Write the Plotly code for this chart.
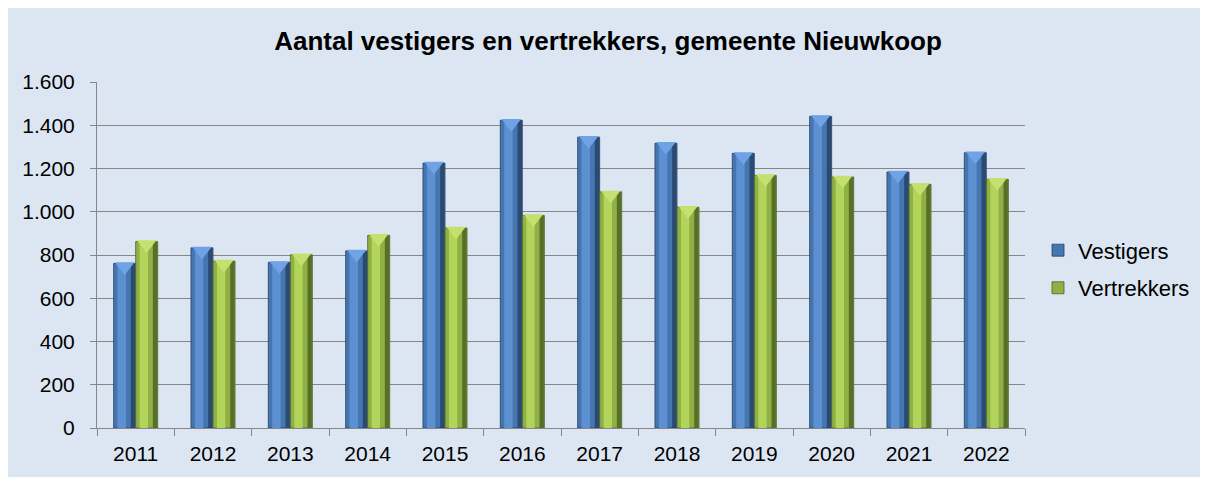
import plotly.graph_objects as go

years = ["2011", "2012", "2013", "2014", "2015", "2016", "2017", "2018", "2019", "2020", "2021", "2022"]
vestigers = [761, 833, 766, 819, 1225, 1423, 1345, 1317, 1270, 1441, 1184, 1273]
vertrekkers = [862, 772, 801, 891, 925, 983, 1092, 1021, 1168, 1161, 1127, 1150]
y_ticks = [0, 200, 400, 600, 800, 1000, 1200, 1400, 1600]

FONT = "Liberation Sans, Arial, sans-serif"
BG = "#dce6f2"
W, H = 1200, 469
ML, MR, MT, MB = 89, 183, 74, 46
PW, PH = W - ML - MR, H - MT - MB

xs = list(range(len(years)))
BW = 0.285

series = [
    dict(name="Vestigers", vals=vestigers, off=-BW,
         base="#4676b0", light="#5d90d0", dark="#2b4a72", edge="#24406a", top="#6fa3e6"),
    dict(name="Vertrekkers", vals=vertrekkers, off=0.0,
         base="#8fb045", light="#b3d45a", dark="#56702a", edge="#4b6322", top="#c6e070"),
]

fig = go.Figure()
for i, s in enumerate(series):
    fig.add_trace(go.Bar(
        x=xs, y=s["vals"], name=s["name"], width=BW, offset=s["off"],
        marker=dict(color=s["base"], line=dict(color=s["edge"], width=0.8)),
        legendgroup=s["name"], showlegend=True,
    ))
    fig.add_trace(go.Bar(
        x=xs, y=s["vals"], width=BW * 0.38, offset=s["off"] + BW * 0.18,
        marker=dict(color=s["light"], line=dict(width=0)),
        showlegend=False, hoverinfo="skip",
    ))
    fig.add_trace(go.Bar(
        x=xs, y=s["vals"], width=BW * 0.2, offset=s["off"] + BW * 0.78,
        marker=dict(color=s["dark"], line=dict(width=0)),
        showlegend=False, hoverinfo="skip",
    ))
    fig.add_trace(go.Scatter(
        x=[x + s["off"] + BW / 2 for x in xs], y=[v - 14 for v in s["vals"]],
        mode="markers", showlegend=False, hoverinfo="skip",
        marker=dict(symbol="triangle-down", size=17, color=s["top"], line=dict(width=0)),
    ))

fig.update_layout(
    width=W, height=H,
    margin=dict(l=ML, r=MR, t=MT, b=MB),
    paper_bgcolor=BG, plot_bgcolor=BG,
    barmode="overlay",
    separators=",.",
    font=dict(family=FONT, size=21, color="#000000"),
    title=dict(text="<b>Aantal vestigers en vertrekkers, gemeente Nieuwkoop</b>",
               font=dict(family=FONT, size=26, color="#000000"),
               x=0.5, xref="container", xanchor="center",
               y=1 - 33 / H, yref="container", yanchor="middle"),
    legend=dict(x=(1030 - ML) / PW, y=0.5 - 14.5 / PH, xanchor="left", yanchor="middle",
                bgcolor="rgba(0,0,0,0)", font=dict(size=22),
                traceorder="grouped", tracegroupgap=6),
    xaxis=dict(range=[-0.5, len(years) - 0.5], tickvals=xs, ticktext=years,
               ticks="", showline=True, linecolor="#868686", linewidth=1,
               showgrid=False, zeroline=False, ticklabelstandoff=7,
               minor=dict(tickvals=[x - 0.5 for x in xs] + [len(years) - 0.5],
                          ticks="outside", ticklen=7, tickcolor="#868686", tickwidth=1),
               tickfont=dict(size=21)),
    yaxis=dict(range=[0, 1600], tickvals=y_ticks, tickformat=",d",
               ticks="outside", ticklen=6, tickcolor="#868686", tickwidth=1,
               showline=True, linecolor="#868686", linewidth=1,
               gridcolor="#868686", gridwidth=1.2, zeroline=False,
               ticklabelstandoff=11, tickfont=dict(size=21)),
)

fig.write_html("out.html")
